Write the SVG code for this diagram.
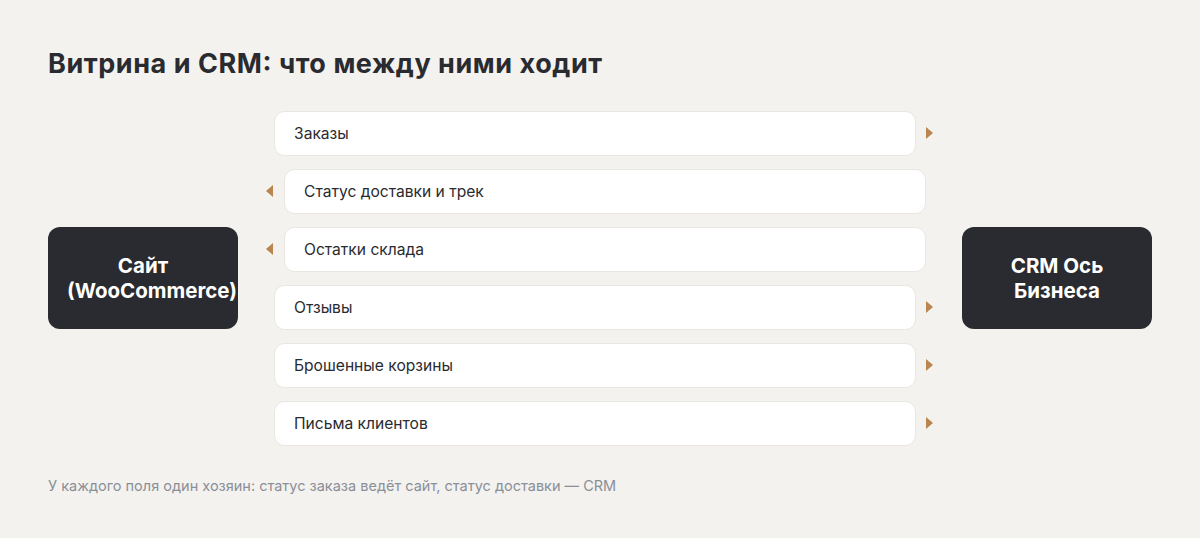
<svg xmlns="http://www.w3.org/2000/svg" width="1200" height="538" viewBox="0 0 1200 538">
<style>
.title{font-family:Inter,"Noto Sans",sans-serif;font-weight:700;font-size:27px;fill:#2a2b30}
.node rect{fill:#2a2b30}
.node text{font-family:Inter,"Noto Sans",sans-serif;font-weight:700;font-size:20.5px;fill:#ffffff;text-anchor:middle}
.row rect{fill:#ffffff;stroke:#e9e6e1;stroke-width:1}
.row text{font-family:Inter,"Noto Sans",sans-serif;font-size:15.6px;fill:#2a2b30}
.arr{fill:#b98550}
.foot{font-family:Inter,"Noto Sans",sans-serif;font-size:14.5px;fill:#8a8f98}
</style>
<rect width="1200" height="538" fill="#f4f2ef"/>
<text class="title" x="48" y="73" textLength="554" lengthAdjust="spacing">Витрина и CRM: что между ними ходит</text>
<g id="node-site" class="node">
<rect x="48" y="227" width="190" height="102" rx="12"/>
<text x="143" y="273">Сайт</text>
<text x="152" y="298">(WooCommerce)</text>
</g>
<g id="node-crm" class="node">
<rect x="962" y="227" width="190" height="102" rx="12"/>
<text x="1057" y="273">CRM Ось</text>
<text x="1057" y="298">Бизнеса</text>
</g>
<g id="row-orders" class="row">
<rect x="274.5" y="111.5" width="641" height="44" rx="10"/>
<text x="294" y="139">Заказы</text>
</g>
<g id="row-delivery" class="row">
<rect x="284.5" y="169.5" width="641" height="44" rx="10"/>
<text x="304" y="197">Статус доставки и трек</text>
</g>
<g id="row-stock" class="row">
<rect x="284.5" y="227.5" width="641" height="44" rx="10"/>
<text x="304" y="255">Остатки склада</text>
</g>
<g id="row-reviews" class="row">
<rect x="274.5" y="285.5" width="641" height="44" rx="10"/>
<text x="294" y="313">Отзывы</text>
</g>
<g id="row-carts" class="row">
<rect x="274.5" y="343.5" width="641" height="44" rx="10"/>
<text x="294" y="371">Брошенные корзины</text>
</g>
<g id="row-letters" class="row">
<rect x="274.5" y="401.5" width="641" height="44" rx="10"/>
<text x="294" y="429">Письма клиентов</text>
</g>
<g id="connectors">
<polygon class="arr" points="926,127 933,133 926,139"/>
<polygon class="arr" points="273,185 266,191 273,197"/>
<polygon class="arr" points="273,243 266,249 273,255"/>
<polygon class="arr" points="926,301 933,307 926,313"/>
<polygon class="arr" points="926,359 933,365 926,371"/>
<polygon class="arr" points="926,417 933,423 926,429"/>
</g>
<text class="foot" x="48" y="491">У каждого поля один хозяин: статус заказа ведёт сайт, статус доставки — CRM</text>
</svg>
